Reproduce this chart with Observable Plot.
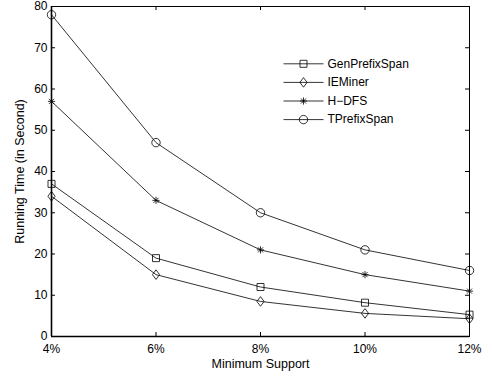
<!DOCTYPE html>
<html><head><meta charset="utf-8">
<script src="https://cdn.jsdelivr.net/npm/d3@7"></script>
<script src="https://cdn.jsdelivr.net/npm/@observablehq/plot@0.6"></script>
<style>body{margin:0;background:#fff} svg{font-family:"Liberation Sans",Arial,Helvetica,sans-serif}</style>
</head><body><div id="chart"></div><script>
// ---- data ----
const supports = [4, 6, 8, 10, 12];
const xTickLabels = ["4%", "6%", "8%", "10%", "12%"];
const yTicks = [0, 10, 20, 30, 40, 50, 60, 70, 80];
const seriesNames = ["GenPrefixSpan", "IEMiner", "H\u2212DFS", "TPrefixSpan"];
const genPrefixSpan = [37, 19, 12, 8.2, 5.3];
const ieMiner = [34, 15, 8.5, 5.6, 4.3];
const hdfs = [57, 33, 21, 15, 11];
const tPrefixSpan = [78, 47, 30, 21, 16];
const seriesValues = [genPrefixSpan, ieMiner, hdfs, tPrefixSpan];

// ---- symbols (MATLAB-like, unfilled) ----
const sqSym = {draw(c){ c.moveTo(-3.5,-3.5); c.lineTo(3.5,-3.5); c.lineTo(3.5,3.5); c.lineTo(-3.5,3.5); c.closePath(); }};
const diaSym = {draw(c){ c.moveTo(0,-4.8); c.lineTo(3.6,0); c.lineTo(0,4.8); c.lineTo(-3.6,0); c.closePath(); }};
const astSym = {draw(c){ const r=3.6, d=r*Math.SQRT1_2;
  c.moveTo(-r,0); c.lineTo(r,0); c.moveTo(0,-r); c.lineTo(0,r);
  c.moveTo(-d,-d); c.lineTo(d,d); c.moveTo(-d,d); c.lineTo(d,-d); }};
const circSym = {draw(c){ c.moveTo(4.2,0); c.arc(0,0,4.2,0,2*Math.PI); }};
const lineSym = {draw(c){ c.moveTo(-20,0); c.lineTo(20,0); }};
const symbols = [sqSym, diaSym, astSym, circSym];

const rows = [];
seriesNames.forEach((s, i) => supports.forEach((x, j) => rows.push({series: s, support: x, value: seriesValues[i][j]})));

const W = 492, H = 378, mL = 51, mR = 23, mT = 6, mB = 42;
const fw = W - mL - mR, fh = H - mT - mB, tick = 4;

const marks = [
  Plot.line(rows, {x: "support", y: "value", z: "series", stroke: "black", strokeWidth: 0.8}),
  ...seriesNames.map((s, i) => Plot.dot(rows.filter(d => d.series === s), {
    x: "support", y: "value", symbol: symbols[i], r: 4, fill: "none", stroke: "black", strokeWidth: 0.8
  })),
  // inward ticks on all four sides
  Plot.tickY(yTicks, {y: d => d, stroke: "black", insetRight: fw - tick}),
  Plot.tickY(yTicks, {y: d => d, stroke: "black", insetLeft: fw - tick}),
  Plot.tickX(supports, {x: d => d, stroke: "black", insetTop: fh - tick}),
  Plot.tickX(supports, {x: d => d, stroke: "black", insetBottom: fh - tick}),
  Plot.frame({stroke: "black", strokeWidth: 1}),
  Plot.ruleX([4], {stroke: "black", strokeWidth: 1.6}),
  Plot.ruleY([0], {stroke: "black", strokeWidth: 1.6}),
  // axis titles
  Plot.text(["Running Time (in Second)"], {frameAnchor: "left", dx: -32, rotate: -90, textAnchor: "middle", lineAnchor: "middle", fontSize: 12.5, fill: "black"}),
  Plot.text(["Minimum Support"], {frameAnchor: "bottom", dy: 27, textAnchor: "middle", lineAnchor: "middle", fontSize: 12.5, fill: "black"}),
  // legend
  ...seriesNames.flatMap((s, i) => [
    Plot.dot([s], {frameAnchor: "top-left", dx: 252, dy: 57.3 + i * 18.6, symbol: lineSym, fill: "none", stroke: "black", strokeWidth: 0.8}),
    Plot.dot([s], {frameAnchor: "top-left", dx: 252, dy: 57.3 + i * 18.6, symbol: symbols[i], fill: "none", stroke: "black", strokeWidth: 0.8}),
    Plot.text([s], {frameAnchor: "top-left", dx: 276, dy: 57.3 + i * 18.6, textAnchor: "start", lineAnchor: "middle", fontSize: 12, fill: "black"})
  ])
];

const chart = Plot.plot({
  width: W, height: H,
  marginLeft: mL, marginRight: mR, marginTop: mT, marginBottom: mB,
  style: {fontSize: "12px", fontFamily: "'Liberation Sans', Arial, Helvetica, sans-serif", color: "black", background: "white"},
  x: {domain: [4, 12], ticks: supports, tickFormat: d => xTickLabels[supports.indexOf(d)], tickSize: 0, tickPadding: 8, label: null},
  y: {domain: [0, 80], ticks: yTicks, tickSize: 0, tickPadding: 4, label: null},
  marks
});
document.getElementById("chart").append(chart);
</script></body></html>
